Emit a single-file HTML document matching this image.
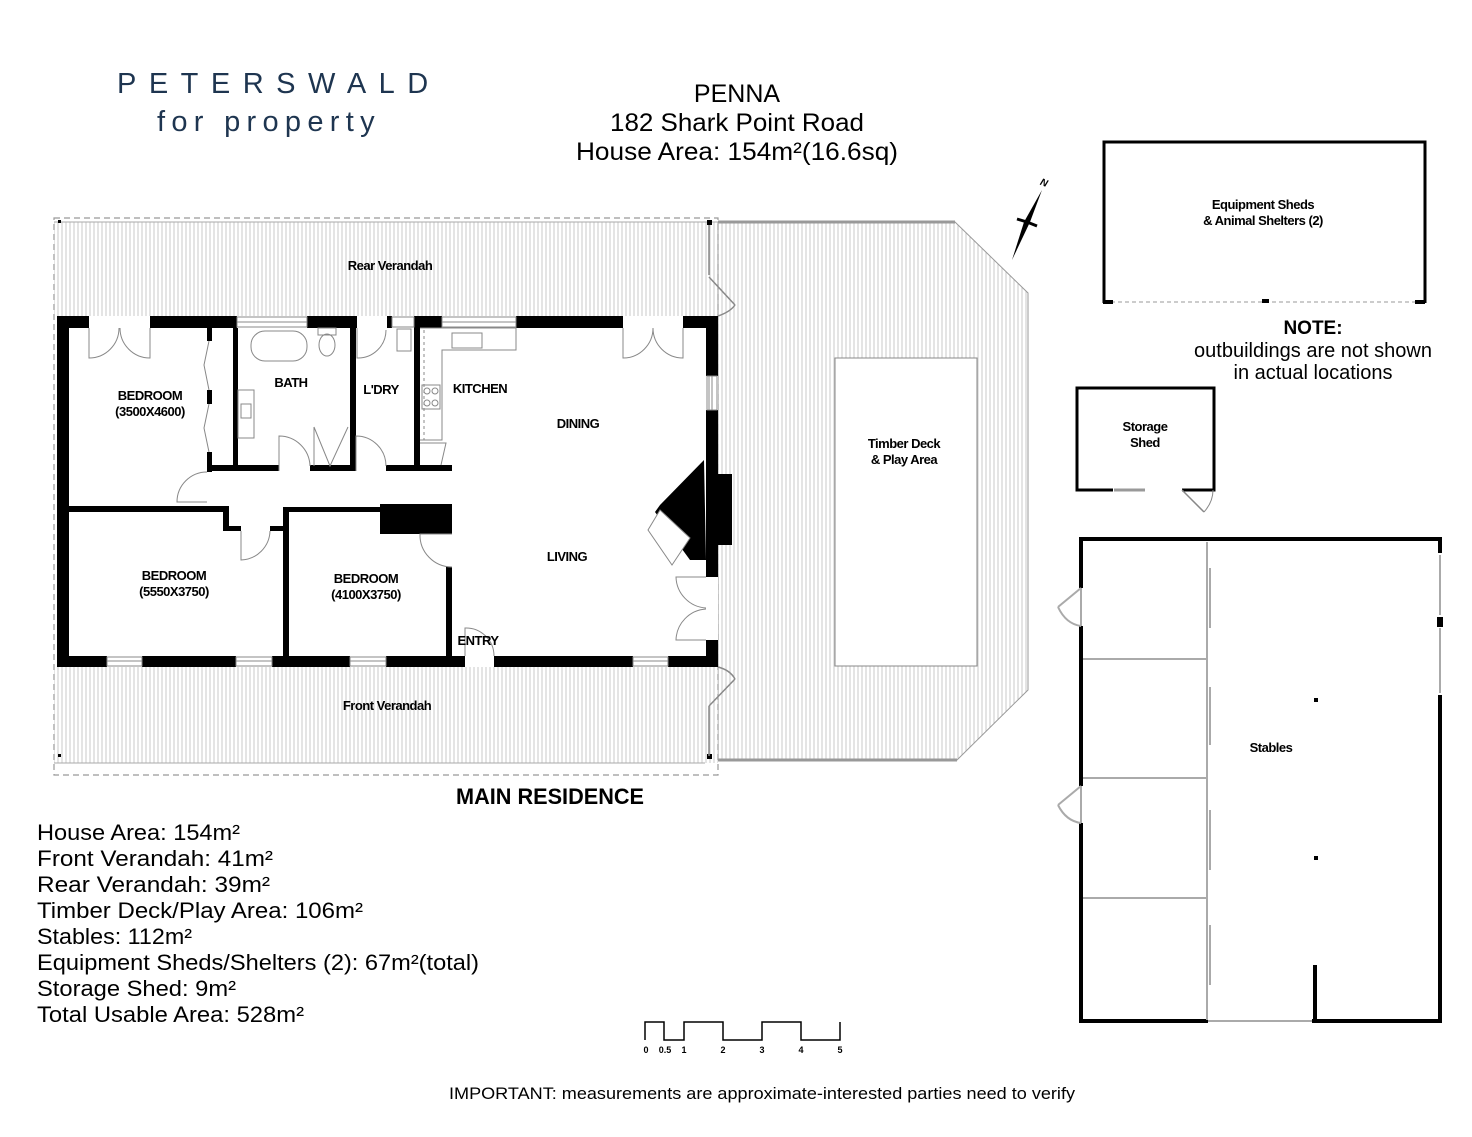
<!DOCTYPE html>
<html><head><meta charset="utf-8"><style>
html,body{margin:0;padding:0;background:#fff;width:1472px;height:1137px;overflow:hidden}
svg{display:block}
text{font-family:"Liberation Sans","DejaVu Sans",sans-serif;fill:#000}
.lbl{font-size:13px;font-weight:bold;letter-spacing:-0.5px}
.n{font-family:"Liberation Sans Narrow","Liberation Sans",sans-serif}
</style></head><body>
<svg width="1472" height="1137" viewBox="0 0 1472 1137" xmlns="http://www.w3.org/2000/svg">
<defs>
<pattern id="h" width="4" height="10" patternUnits="userSpaceOnUse"><rect width="4" height="10" fill="#fff"/><line x1="2" y1="0" x2="2" y2="10" stroke="#c8c8c8" stroke-width="1"/></pattern>
</defs>
<text x="117" y="93" font-size="29" style="fill:#1e3550;letter-spacing:12.5px">PETERSWALD</text>
<text x="157" y="131" font-size="29" style="fill:#1e3550;letter-spacing:6.3px">for property</text>
<text class="n" x="737" y="102" font-size="25" text-anchor="middle">PENNA</text>
<text class="n" x="737" y="131" font-size="25" text-anchor="middle" textLength="254" lengthAdjust="spacingAndGlyphs">182 Shark Point Road</text>
<text class="n" x="737" y="160" font-size="25" text-anchor="middle" textLength="322" lengthAdjust="spacingAndGlyphs">House Area: 154m²(16.6sq)</text>

<rect x="54" y="222" width="664" height="95" fill="url(#h)"/>
<polygon points="718,222 955,222 1028,293 1028,690 957,760 718,760" fill="url(#h)" stroke="#999" stroke-width="1"/>
<line x1="718" y1="222" x2="955" y2="222" stroke="#999" stroke-width="3"/>
<line x1="718" y1="760" x2="957" y2="760" stroke="#999" stroke-width="3"/>
<rect x="54" y="665" width="664" height="98" fill="url(#h)"/>
<rect x="54" y="218" width="664" height="557" fill="none" stroke="#999" stroke-width="1.2" stroke-dasharray="6,4"/>
<line x1="54" y1="222" x2="718" y2="222" stroke="#aaa" stroke-width="1"/>
<line x1="54" y1="763" x2="705" y2="763" stroke="#aaa" stroke-width="1"/>
<g fill="#000">
<rect x="58" y="220" width="3" height="3"/><rect x="58" y="754" width="3" height="3"/>
<rect x="707" y="220" width="5" height="5"/><rect x="707" y="754" width="5" height="5"/>
</g>
<g stroke="#888" fill="none" stroke-width="1.5">
<line x1="709" y1="225" x2="709" y2="275"/><line x1="709" y1="277" x2="735" y2="305"/><path d="M735,305 Q730,312 718,316"/>
<line x1="709" y1="706" x2="709" y2="756"/><line x1="709" y1="706" x2="735" y2="679"/><path d="M735,679 Q730,670 718,667"/>
</g>
<rect x="835" y="358" width="142" height="308" fill="#fff" stroke="#888" stroke-width="1"/>
<text class="lbl" x="390" y="270" text-anchor="middle">Rear Verandah</text>
<text class="lbl" x="387" y="710" text-anchor="middle">Front Verandah</text>
<text class="lbl" x="904" y="448" text-anchor="middle">Timber Deck</text>
<text class="lbl" x="904" y="464" text-anchor="middle">&amp; Play Area</text>

<rect x="57" y="316" width="661" height="351" fill="#fff"/>
<g fill="#000">
<rect x="57" y="316" width="32" height="12"/>
<rect x="150" y="316" width="87" height="12"/>
<rect x="307" y="316" width="50" height="12"/>
<rect x="387" y="316" width="5" height="12"/>
<rect x="414" y="316" width="28" height="12"/>
<rect x="516" y="316" width="107" height="12"/>
<rect x="683" y="316" width="35" height="12"/>
<rect x="57" y="316" width="12" height="351"/>
<rect x="57" y="656" width="50" height="11"/>
<rect x="142" y="656" width="94" height="11"/>
<rect x="272" y="656" width="78" height="11"/>
<rect x="386" y="656" width="79" height="11"/>
<rect x="494" y="656" width="139" height="11"/>
<rect x="668" y="656" width="50" height="11"/>
<rect x="706" y="316" width="12" height="60"/>
<rect x="706" y="410" width="12" height="167"/>
<rect x="706" y="640" width="12" height="27"/>
<rect x="716" y="474" width="16" height="71"/>
<polygon points="704,460 706,560 690,560 655,512 660,505"/>
<rect x="207" y="328" width="5" height="13"/>
<rect x="207" y="390" width="5" height="14"/>
<rect x="207" y="452" width="5" height="20"/>
<rect x="233" y="328" width="5" height="142"/>
<rect x="350" y="328" width="6" height="142"/>
<rect x="414" y="328" width="6" height="142"/>
<rect x="207" y="465" width="72" height="6"/>
<rect x="310" y="465" width="46" height="6"/>
<rect x="386" y="465" width="66" height="6"/>
<rect x="69" y="506" width="159" height="6"/>
<rect x="223" y="506" width="6" height="25"/>
<rect x="223" y="526" width="18" height="5"/>
<rect x="270" y="526" width="18" height="5"/>
<rect x="283" y="507" width="6" height="152"/>
<rect x="283" y="507" width="169" height="5"/>
<rect x="380" y="504" width="72" height="30"/>
<rect x="446" y="567" width="6" height="92"/>
</g>
<g fill="#fff" stroke="#888" stroke-width="1">
<rect x="237" y="317" width="70" height="10"/><line x1="237" y1="322" x2="307" y2="322"/>
<rect x="392" y="317" width="22" height="10"/>
<rect x="442" y="317" width="74" height="10"/><line x1="442" y1="322" x2="516" y2="322"/>
<rect x="107" y="657" width="35" height="9"/><line x1="107" y1="661" x2="142" y2="661"/>
<rect x="236" y="657" width="36" height="9"/><line x1="236" y1="661" x2="272" y2="661"/>
<rect x="350" y="657" width="36" height="9"/><line x1="350" y1="661" x2="386" y2="661"/>
<rect x="633" y="657" width="35" height="9"/><line x1="633" y1="661" x2="668" y2="661"/>
<rect x="707" y="376" width="10" height="34"/><line x1="712" y1="376" x2="712" y2="410"/>
</g>
<g fill="none" stroke="#888" stroke-width="1">
<path d="M89,328 V358 A30,30 0 0 0 119,328 M150,328 V358 A30,30 0 0 1 120,328"/>
<path d="M623,328 V358 A30,30 0 0 0 653,328 M683,328 V358 A30,30 0 0 1 653,328"/>
<path d="M209,341 L204,365 L209,390 M209,404 L204,428 L209,452"/>
<path d="M357,328 V358 A28,28 0 0 0 386,330"/>
<rect x="251" y="331" width="56" height="30" rx="14"/>
<rect x="318" y="328" width="18" height="7"/><ellipse cx="327" cy="345" rx="8" ry="11"/>
<rect x="238" y="390" width="16" height="48"/><rect x="241" y="404" width="10" height="14"/>
<rect x="397" y="329" width="14" height="22"/>
<path d="M279,471 V436 A31,31 0 0 1 310,466"/>
<path d="M356,471 V436 A30,30 0 0 1 386,466"/>
<path d="M314,427 L330,466 L348,427 M314,427 V466"/>
<line x1="424" y1="330" x2="424" y2="440" stroke-dasharray="3,3"/>
<path d="M420,328 H516 V350 H442 V440 H420"/>
<rect x="452" y="333" width="30" height="15"/>
<rect x="422" y="385" width="18" height="24"/>
<circle cx="427" cy="391" r="3"/><circle cx="435" cy="391" r="3"/><circle cx="427" cy="403" r="3"/><circle cx="435" cy="403" r="3"/>
<path d="M420,443 H446 L441,465"/>
<path d="M207,472 A30,30 0 0 0 177,502 H207"/>
<path d="M241,531 V560 A30,30 0 0 0 270,531"/>
<path d="M452,534 H420 A32,32 0 0 0 452,567"/>
<path d="M465,656 V628 A28,28 0 0 1 494,656"/>
<path d="M706,577 H676 A32,32 0 0 0 706,608 M706,640 H676 A32,32 0 0 1 706,609"/>
<polygon points="660,510 690,538 672,565 648,530" fill="#fff"/>
</g>
<line x1="709" y1="376" x2="709" y2="410" stroke="#888"/>
<text class="lbl" x="150" y="400" text-anchor="middle">BEDROOM</text>
<text class="lbl" x="150" y="416" text-anchor="middle">(3500X4600)</text>
<text class="lbl" x="291" y="387" text-anchor="middle">BATH</text>
<text class="lbl" x="381" y="394" text-anchor="middle">L'DRY</text>
<text class="lbl" x="480" y="393" text-anchor="middle">KITCHEN</text>
<text class="lbl" x="578" y="428" text-anchor="middle">DINING</text>
<text class="lbl" x="567" y="561" text-anchor="middle">LIVING</text>
<text class="lbl" x="174" y="580" text-anchor="middle">BEDROOM</text>
<text class="lbl" x="174" y="596" text-anchor="middle">(5550X3750)</text>
<text class="lbl" x="366" y="583" text-anchor="middle">BEDROOM</text>
<text class="lbl" x="366" y="599" text-anchor="middle">(4100X3750)</text>
<text class="lbl" x="478" y="645" text-anchor="middle">ENTRY</text>

<polygon points="1042,190 1030,222 1012,260 1024,222" fill="#000"/>
<polygon points="1017,219 1027,222 1037,226 1027,222" stroke="#000" stroke-width="3"/>
<text x="1040" y="186" font-size="10" font-weight="bold" font-style="italic" transform="rotate(20 1044 184)">N</text>

<path d="M1104,303 V142 H1425 V303" fill="none" stroke="#000" stroke-width="3"/>
<line x1="1104" y1="302" x2="1425" y2="302" stroke="#999" stroke-dasharray="4,3"/>
<rect x="1103" y="300" width="10" height="4"/><rect x="1415" y="300" width="10" height="4"/><rect x="1262" y="299" width="7" height="4"/>
<text class="lbl" x="1263" y="209" text-anchor="middle">Equipment Sheds</text>
<text class="lbl" x="1263" y="225" text-anchor="middle">&amp; Animal Shelters (2)</text>
<text x="1313" y="334" text-anchor="middle" font-size="19" font-weight="bold">NOTE:</text>
<text x="1313" y="357" text-anchor="middle" font-size="20">outbuildings are not shown</text>
<text x="1313" y="379" text-anchor="middle" font-size="20">in actual locations</text>

<path d="M1113,490 H1077 V388 H1214 V490 H1182" fill="none" stroke="#000" stroke-width="3"/>
<line x1="1114" y1="490" x2="1145" y2="490" stroke="#999" stroke-width="3"/>
<line x1="1182" y1="490" x2="1204" y2="512" stroke="#888" stroke-width="1.5"/>
<path d="M1204,512 Q1213,502 1213,490" fill="none" stroke="#888"/>
<text class="lbl" x="1145" y="431" text-anchor="middle">Storage</text>
<text class="lbl" x="1145" y="447" text-anchor="middle">Shed</text>

<g fill="none" stroke="#000" stroke-width="4">
<path d="M1081,588 V539 H1440 V553"/>
<path d="M1081,626 V786"/>
<path d="M1081,823 V1021 H1208"/>
<path d="M1312,1021 H1440 V695"/>
<path d="M1315,1021 V965"/>
</g>
<rect x="1437" y="617" width="6" height="10"/>
<g stroke="#aaa" stroke-width="2" fill="none">
<line x1="1440" y1="555" x2="1440" y2="615"/><line x1="1440" y1="628" x2="1440" y2="693"/>
<line x1="1083" y1="659" x2="1208" y2="659"/><line x1="1083" y1="778" x2="1208" y2="778"/><line x1="1083" y1="898" x2="1208" y2="898"/>
<line x1="1207" y1="542" x2="1207" y2="1020"/>
<line x1="1210" y1="568" x2="1210" y2="628"/><line x1="1210" y1="687" x2="1210" y2="745"/><line x1="1210" y1="810" x2="1210" y2="870"/><line x1="1210" y1="925" x2="1210" y2="985"/>
<line x1="1208" y1="1021" x2="1312" y2="1021"/>
<line x1="1081" y1="588" x2="1081" y2="626"/><line x1="1081" y1="588" x2="1058" y2="607"/><path d="M1058,607 Q1066,624 1081,626"/>
<line x1="1081" y1="786" x2="1081" y2="823"/><line x1="1081" y1="786" x2="1058" y2="805"/><path d="M1058,805 Q1066,821 1081,823"/>
</g>
<rect x="1314" y="698" width="4" height="4"/><rect x="1314" y="856" width="4" height="4"/>
<text class="lbl" x="1271" y="752" text-anchor="middle">Stables</text>

<text class="n" x="550" y="804" text-anchor="middle" font-size="22" font-weight="bold" textLength="188" lengthAdjust="spacingAndGlyphs">MAIN RESIDENCE</text>
<g class="n" font-size="22">
<text x="37" y="840" textLength="203" lengthAdjust="spacingAndGlyphs">House Area: 154m²</text>
<text x="37" y="866" textLength="236" lengthAdjust="spacingAndGlyphs">Front Verandah: 41m²</text>
<text x="37" y="892" textLength="233" lengthAdjust="spacingAndGlyphs">Rear Verandah: 39m²</text>
<text x="37" y="918" textLength="326" lengthAdjust="spacingAndGlyphs">Timber Deck/Play Area: 106m²</text>
<text x="37" y="944" textLength="155" lengthAdjust="spacingAndGlyphs">Stables: 112m²</text>
<text x="37" y="970" textLength="442" lengthAdjust="spacingAndGlyphs">Equipment Sheds/Shelters (2): 67m²(total)</text>
<text x="37" y="996" textLength="199" lengthAdjust="spacingAndGlyphs">Storage Shed: 9m²</text>
<text x="37" y="1022" textLength="267" lengthAdjust="spacingAndGlyphs">Total Usable Area: 528m²</text>
</g>
<path d="M645,1040 V1022 H664 V1040 H684 V1022 H723 V1040 H762 V1022 H801 V1040 H840 V1022" fill="none" stroke="#000" stroke-width="1.5"/>
<g font-size="9" font-weight="bold" text-anchor="middle">
<text x="646" y="1053">0</text><text x="665" y="1053">0.5</text><text x="684" y="1053">1</text><text x="723" y="1053">2</text><text x="762" y="1053">3</text><text x="801" y="1053">4</text><text x="840" y="1053">5</text>
</g>
<text class="n" x="762" y="1099" text-anchor="middle" font-size="17" textLength="626" lengthAdjust="spacingAndGlyphs">IMPORTANT: measurements are approximate-interested parties need to verify</text>
</svg>
</body></html>
